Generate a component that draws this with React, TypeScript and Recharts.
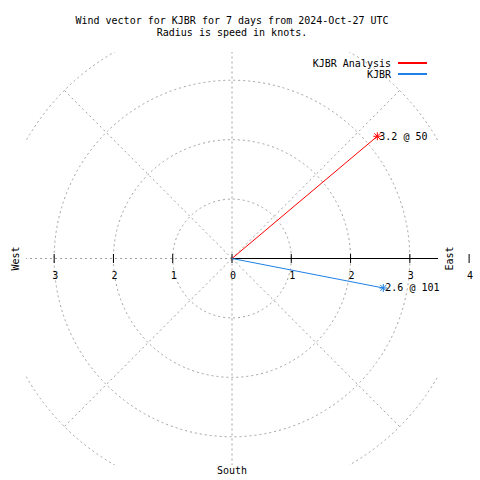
import React from 'react';
import {
  ScatterChart,
  Scatter,
  XAxis,
  YAxis,
  ReferenceLine,
  ReferenceDot,
  Customized,
  usePlotArea,
} from 'recharts';

// ---- data ----
const stationNames = ['KJBR Analysis', 'KJBR'];
const windSpeeds = [3.2, 2.6];
const windDirections = [50, 101];
const titleLines = [
  'Wind vector for KJBR for 7 days from 2024-Oct-27 UTC',
  'Radius is speed in knots.',
];
const ringRadii = [1, 2, 3, 4];
const spokeAngles = [0, 45, 90, 135, 180, 225, 270, 315];
const tickValues = [-3, -2, -1, 0, 1, 2, 3, 4];
const tickLabels = ['3', '2', '1', '0', '1', '2', '3', '4'];
const compassLabels = ['West', 'East', 'South'];
const RANGE = 3.475;

// ---- styles ----
const seriesColors = ['#ff0000', '#1e80e6'];
const GRID = '#a0a0a0';
const FONT = '"DejaVu Sans Mono", monospace';
const FS = 10;

const rad = (d: number) => (d * Math.PI) / 180;
const r6 = (v: number) => Math.round(v * 1e6) / 1e6;
const toXY = (speed: number, dir: number) => ({
  x: r6(speed * Math.sin(rad(dir))),
  y: r6(speed * Math.cos(rad(dir))),
});

const vectors = stationNames.map((name, i) => ({
  name,
  color: seriesColors[i],
  data: [
    { x: 0, y: 0, end: false, label: '' },
    {
      ...toXY(windSpeeds[i], windDirections[i]),
      end: true,
      label: `${windSpeeds[i]} @ ${windDirections[i]}`,
    },
  ],
}));

const outerRing = ringRadii[ringRadii.length - 1];
const spokes = spokeAngles.map((a) => {
  const dx = Math.sin(rad(a));
  const dy = Math.cos(rad(a));
  const s = Math.min(outerRing, RANGE / Math.max(Math.abs(dx), Math.abs(dy)));
  return { a, x: r6(dx * s), y: r6(dy * s) };
});

const makeEndShape = (color: string) => (props: any) => {
  const { cx, cy, payload } = props;
  if (!payload || !payload.end) return <g />;
  return (
    <g>
      <line x1={cx - 4} y1={cy} x2={cx + 4} y2={cy} stroke={color} />
      <line x1={cx} y1={cy - 4} x2={cx} y2={cy + 4} stroke={color} />
      <line x1={cx - 3} y1={cy - 3} x2={cx + 3} y2={cy + 3} stroke={color} />
      <line x1={cx - 3} y1={cy + 3} x2={cx + 3} y2={cy - 3} stroke={color} />
      <text
        x={cx + 2}
        y={cy + 3.5}
        fontFamily={FONT}
        fontSize={FS}
        fill="#000"
      >
        {payload.label}
      </text>
    </g>
  );
};

const tickShape = (label: string) => (props: any) => {
  const { cx, cy } = props;
  return (
    <g>
      <line x1={cx} y1={cy - 4.5} x2={cx} y2={cy + 4.5} stroke="#000" />
      <text
        x={cx + 1}
        y={cy + 20}
        textAnchor="middle"
        fontFamily={FONT}
        fontSize={FS}
        fill="#000"
      >
        {label}
      </text>
    </g>
  );
};

const Rings = () => {
  const area: any = usePlotArea();
  if (!area) return null;
  const kx = area.width / (2 * RANGE);
  const ky = area.height / (2 * RANGE);
  const cx = area.x + area.width / 2;
  const cy = area.y + area.height / 2;
  return (
    <g>
      <defs>
        <clipPath id="polarClip">
          <rect x={area.x} y={area.y} width={area.width} height={area.height} />
        </clipPath>
      </defs>
      <g clipPath="url(#polarClip)">
        {ringRadii.map((r) => (
          <ellipse
            key={r}
            cx={cx}
            cy={cy}
            rx={r * kx}
            ry={r * ky}
            fill="none"
            stroke={GRID}
            strokeDasharray="2 3"
          />
        ))}
      </g>
    </g>
  );
};

const Decorations = () => {
  const area: any = usePlotArea();
  if (!area) return null;
  const cx = area.x + area.width / 2;
  const cy = area.y + area.height / 2;
  const right = area.x + area.width;
  return (
    <g fontFamily={FONT} fontSize={FS} fill="#000">
      {titleLines.map((t, i) => (
        <text key={t} x={cx} y={23.5 + i * 12.5} textAnchor="middle">
          {t}
        </text>
      ))}
      {stationNames.map((n, i) => (
        <g key={n}>
          <text x={right - 47} y={67 + i * 11} textAnchor="end">
            {n}
          </text>
          <line
            x1={right - 40}
            x2={right - 11}
            y1={63 + i * 11}
            y2={63 + i * 11}
            stroke={seriesColors[i]}
            strokeWidth={2}
          />
        </g>
      ))}
      <text
        x={18.5}
        y={cy}
        textAnchor="middle"
        transform={`rotate(-90 18.5 ${cy})`}
      >
        {compassLabels[0]}
      </text>
      <text
        x={453}
        y={cy}
        textAnchor="middle"
        transform={`rotate(-90 453 ${cy})`}
      >
        {compassLabels[1]}
      </text>
      <text x={cx} y={474} textAnchor="middle">
        {compassLabels[2]}
      </text>
    </g>
  );
};

export default function App() {
  return (
    <div style={{ width: 480, height: 480, background: '#fff' }}>
      <style>{'body{margin:0;background:#fff}'}</style>
      <ScatterChart
        width={480}
        height={480}
        margin={{ top: 52, left: 26, right: 42, bottom: 15 }}
      >
        <XAxis type="number" dataKey="x" domain={[-RANGE, RANGE]} hide />
        <YAxis type="number" dataKey="y" domain={[-RANGE, RANGE]} hide />
        <Customized component={<Rings />} />
        {spokes.map((s) => (
          <ReferenceLine
            key={s.a}
            segment={[
              { x: 0, y: 0 },
              { x: s.x, y: s.y },
            ]}
            stroke={GRID}
            strokeDasharray="2 3"
            ifOverflow="visible"
          />
        ))}
        <ReferenceLine
          segment={[
            { x: 0, y: 0 },
            { x: RANGE, y: 0 },
          ]}
          stroke="#000"
          ifOverflow="visible"
        />
        {tickValues.map((t, i) => (
          <ReferenceDot
            key={t}
            x={t}
            y={0}
            ifOverflow="visible"
            shape={tickShape(tickLabels[i])}
          />
        ))}
        {vectors.map((v) => (
          <Scatter
            key={v.name}
            name={v.name}
            data={v.data}
            fill={v.color}
            line={{ stroke: v.color, strokeWidth: 1 }}
            shape={makeEndShape(v.color)}
            isAnimationActive={false}
          />
        ))}
        <Customized component={<Decorations />} />
      </ScatterChart>
    </div>
  );
}
